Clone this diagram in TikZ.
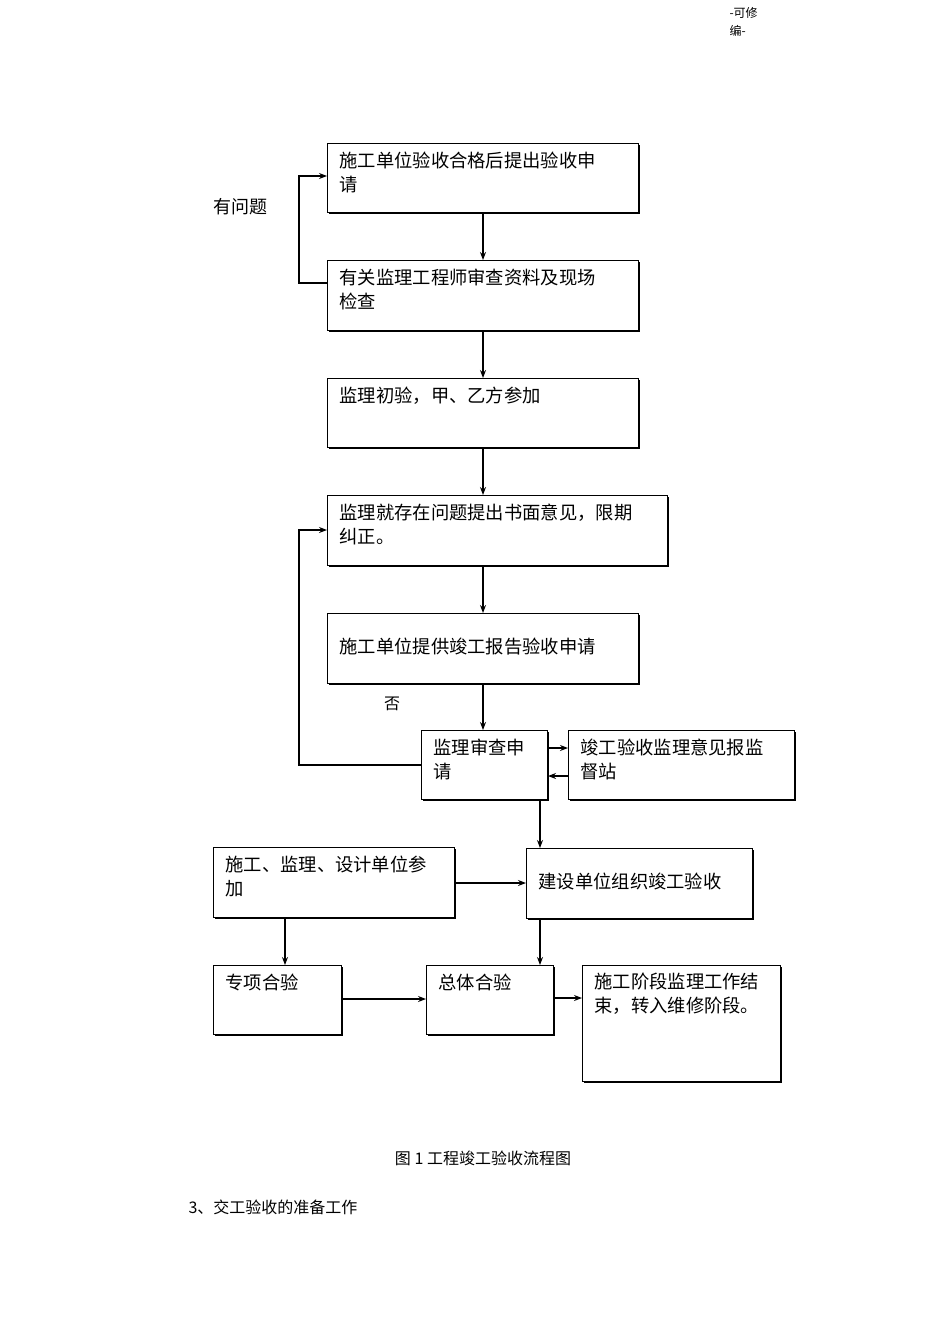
\documentclass[tikz,border=0pt]{standalone}
\usepackage{fontspec}
\setmainfont{Noto Sans CJK SC}
\usetikzlibrary{arrows.meta,shadows}
\newcommand{\bx}[3]{\parbox[c][#2pt][t]{#1pt}{\leftskip12pt\rightskip0pt\vspace{8pt}#3}}
\begin{document}
\begin{tikzpicture}[x=1pt,y=-1pt,
  box/.style={draw,line width=1pt,fill=white,anchor=north west,inner sep=0pt,
    general shadow={fill=black,shadow xshift=1.3pt,shadow yshift=-1.3pt},
    font=\fontsize{18.3}{24}\selectfont},
  arr/.style={-{Stealth[length=8pt,width=6pt]},line width=1.2pt}]
\useasboundingbox[fill=white] (0,0) rectangle (950,1344);
\node[box] (apply)  at (327,143) {\bx{311}{69}{施工单位验收合格后提出验收申\\请}};
\node[box] (check)  at (327,260) {\bx{311}{70}{有关监理工程师审查资料及现场\\检查}};
\node[box] (pre)    at (327,378) {\bx{311}{69}{监理初验，甲、乙方参加}};
\node[box] (advice) at (327,495) {\bx{340}{70}{监理就存在问题提出书面意见，限期\\纠正。}};
\node[box] (report) at (327,613) {\bx{311}{70}{\vspace{16pt}施工单位提供竣工报告验收申请}};
\node[box] (review) at (421,730) {\bx{126}{69}{监理审查申\\请}};
\node[box] (super)  at (568,730) {\bx{226}{69}{竣工验收监理意见报监\\督站}};
\node[box] (build)  at (526,848) {\bx{226}{70}{\vspace{16pt}建设单位组织竣工验收}};
\node[box] (join)   at (213,847) {\bx{241}{70}{施工、监理、设计单位参\\加}};
\node[box] (spec)   at (213,965) {\bx{128}{69}{专项合验}};
\node[box] (total)  at (426,965) {\bx{127}{69}{总体合验}};
\node[box] (finish) at (582,965) {\bx{198}{116}{施工阶段监理工作结\\束，转入维修阶段。}};
\coordinate (l1) at (299,283);
\coordinate (l2) at (299,765);
\draw[arr] (483,212) -- (483,260);
\draw[arr] (483,330) -- (483,378);
\draw[arr] (483,447) -- (483,495);
\draw[arr] (483,565) -- (483,613);
\draw[arr] (483,683) -- (483,730);
\draw[arr] (check.west |- l1) -- (l1) |- (apply.west |- 0,176);
\draw[arr] (review.west |- l2) -- (l2) |- (advice.west |- 0,530);
\draw[arr] (review.east |- 0,748) -- (super.west |- 0,748);
\draw[arr] (super.west |- 0,776) -- (review.east |- 0,776);
\draw[arr] (540,799) -- (540,848);
\draw[arr] (join.east |- 0,883) -- (build.west |- 0,883);
\draw[arr] (285,917) -- (285,965);
\draw[arr] (540,918) -- (540,965);
\draw[arr] (spec.east |- 0,999) -- (total.west |- 0,999);
\draw[arr] (total.east |- 0,998) -- (finish.west |- 0,998);
\node[font=\fontsize{18}{20}\selectfont] (q) at (240,207) {有问题};
\node[font=\fontsize{16}{20}\selectfont] (no) at (392,704) {否};
\node[font=\fontsize{12}{18}\selectfont,align=left,anchor=north west] (hdr) at (726,4) {-可修\\编-};
\node[font=\fontsize{16}{18}\selectfont] (cap) at (483,1158) {图 1 工程竣工验收流程图};
\node[font=\fontsize{16}{18}\selectfont,anchor=west] (sec) at (185,1207) {3、交工验收的准备工作};
\end{tikzpicture}
\end{document}
